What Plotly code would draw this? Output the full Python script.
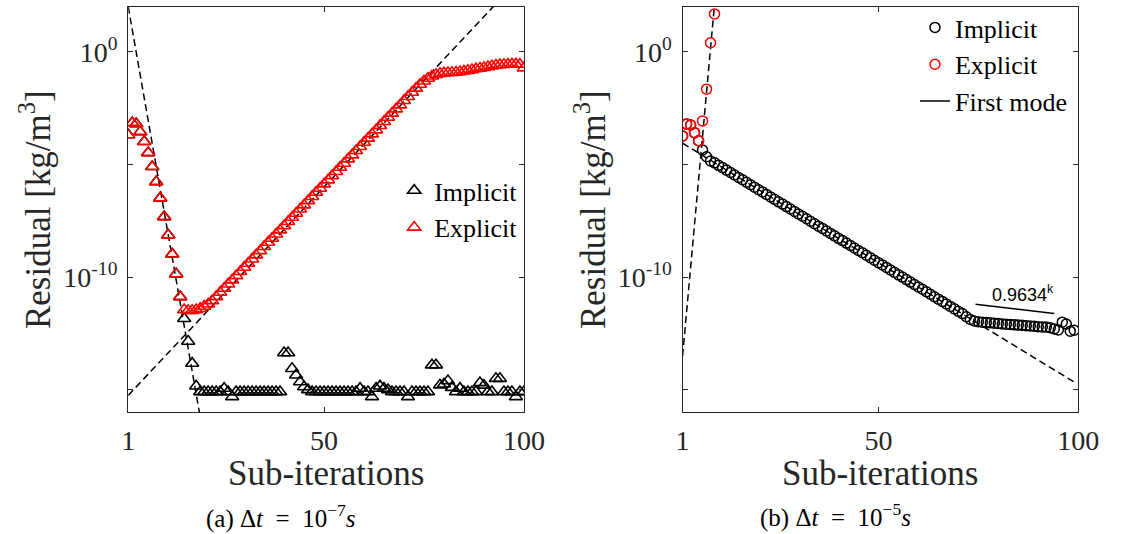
import numpy as np
import plotly.graph_objects as go

# ---------------- data (log10 of residual) ----------------
iters_a = list(range(1, 101))
explicit_a_log10 = [
    -3.69, -3.15, -3.20, -3.55, -3.99, -4.48, -5.10, -5.77, -6.49, -7.32,
    -8.13, -8.98, -9.86, -10.87, -11.45, -11.48, -11.48, -11.45, -11.40, -11.30,
    -11.20, -11.05, -10.87, -10.68, -10.50, -10.31, -10.13, -9.94, -9.76, -9.57,
    -9.39, -9.20, -9.02, -8.83, -8.65, -8.46, -8.28, -8.09, -7.91, -7.72,
    -7.54, -7.35, -7.17, -6.98, -6.80, -6.61, -6.43, -6.24, -6.06, -5.87,
    -5.69, -5.50, -5.32, -5.13, -4.95, -4.76, -4.58, -4.39, -4.21, -4.02,
    -3.84, -3.65, -3.47, -3.28, -3.10, -2.91, -2.73, -2.54, -2.36, -2.17,
    -1.99, -1.80, -1.62, -1.45, -1.30, -1.18, -1.08, -1.01, -0.97, -0.94,
    -0.93, -0.92, -0.91, -0.89, -0.86, -0.83, -0.80, -0.76, -0.73, -0.70,
    -0.67, -0.63, -0.60, -0.58, -0.57, -0.56, -0.55, -0.55, -0.56, -0.72,
]
implicit_a_log10 = [
    -3.69, -3.15, -3.20, -3.55, -3.99, -4.48, -5.10, -5.77, -6.49, -7.32,
    -8.13, -8.98, -9.86, -10.87, -11.84, -12.85, -13.83, -14.84, -15.09, -15.09,
    -15.09, -15.09, -15.09, -15.09, -14.94, -15.09, -15.31, -15.09, -15.09, -15.09,
    -15.09, -15.09, -15.09, -15.09, -15.09, -15.09, -15.09, -15.09, -15.09, -13.36,
    -13.36, -14.06, -14.35, -14.65, -14.87, -15.00, -15.09, -15.09, -15.09, -15.09,
    -15.09, -15.09, -15.09, -15.09, -15.09, -15.09, -15.09, -15.09, -14.94, -15.09,
    -15.09, -15.31, -14.94, -14.84, -14.94, -15.00, -15.09, -15.09, -15.09, -15.09,
    -15.31, -15.09, -15.09, -15.09, -15.09, -15.09, -13.90, -13.90, -14.79, -14.75,
    -14.60, -14.90, -15.09, -14.94, -15.09, -15.09, -15.09, -15.09, -14.69, -14.80,
    -15.09, -15.09, -14.50, -14.50, -15.09, -15.09, -15.09, -15.31, -15.09, -15.09,
]
# dashed fit lines, panel (a)
fit_a1_iters = [1, 18.8]
fit_a1_log10 = [2.0, -16.0]
fit_a2_iters = [1, 100]
fit_a2_log10 = [-15.25, 3.45]

iters_b_explicit = list(range(1, 10))
explicit_b_log10 = [-3.74, -3.21, -3.25, -3.59, -3.95, -3.07, -1.66, 0.40, 1.68]
iters_b_implicit = list(range(1, 100))
implicit_b_log10 = [
    -3.74, -3.21, -3.25, -3.59, -3.95, -4.36, -4.66, -4.85, -4.93, -5.04,
    -5.14, -5.25, -5.36, -5.47, -5.58, -5.68, -5.79, -5.90, -6.01, -6.12,
    -6.22, -6.33, -6.44, -6.55, -6.66, -6.76, -6.87, -6.98, -7.09, -7.20,
    -7.30, -7.41, -7.52, -7.63, -7.74, -7.84, -7.95, -8.06, -8.17, -8.28,
    -8.38, -8.49, -8.60, -8.71, -8.82, -8.92, -9.03, -9.14, -9.25, -9.36,
    -9.46, -9.57, -9.68, -9.79, -9.90, -10.00, -10.11, -10.22, -10.33, -10.44,
    -10.54, -10.65, -10.76, -10.87, -10.98, -11.08, -11.19, -11.30, -11.41, -11.52,
    -11.62, -11.76, -11.88, -11.95, -11.98, -12.00, -12.02, -12.03, -12.05, -12.06,
    -12.08, -12.09, -12.10, -12.12, -12.13, -12.14, -12.16, -12.17, -12.18, -12.20,
    -12.21, -12.22, -12.25, -12.30, -12.35, -12.00, -12.08, -12.40, -12.36,
]
# dashed fit lines, panel (b)
fit_b1_iters = [1, 9.3]
fit_b1_log10 = [-13.5, 2.7]
fit_b2_iters = [1, 99]
fit_b2_log10 = [-4.06, -14.66]
# first-mode slope marker
mode_iters = [74.3, 94.0]
mode_log10 = [-11.21, -11.61]
mode_label = "0.9634<sup>k</sup>"

x_ticks = [1, 50, 100]
y_tickvals = [1e-15, 1e-10, 1e-5, 1e0]
y_ticktext = ["", "10<sup>-10</sup>", "", "10<sup>0</sup>"]

# ---------------- styling ----------------
W, H = 1133, 534
SERIF = "Liberation Serif"
AX = "#262626"
RED = "#ff0000"


def p(v):
    return (10.0 ** np.array(v, dtype=float)).tolist()


fig = go.Figure()

dash_style = dict(color="black", width=1.5, dash="7px,4px")

# panel (a)
fig.add_trace(go.Scatter(x=fit_a1_iters, y=p(fit_a1_log10), mode="lines", line=dash_style,
                         showlegend=False, xaxis="x", yaxis="y", hoverinfo="skip"))
fig.add_trace(go.Scatter(x=fit_a2_iters, y=p(fit_a2_log10), mode="lines", line=dash_style,
                         showlegend=False, xaxis="x", yaxis="y", hoverinfo="skip"))
fig.add_trace(go.Scatter(x=iters_a, y=p(implicit_a_log10), mode="markers", name="Implicit",
                         marker=dict(symbol="triangle-up-open", size=11.5, color="black",
                                     line=dict(width=1.6, color="black")),
                         xaxis="x", yaxis="y", legend="legend"))
fig.add_trace(go.Scatter(x=iters_a, y=p(explicit_a_log10), mode="markers", name="Explicit",
                         marker=dict(symbol="triangle-up-open", size=11.5, color=RED,
                                     line=dict(width=1.6, color=RED)),
                         xaxis="x", yaxis="y", legend="legend"))

# panel (b)
fig.add_trace(go.Scatter(x=fit_b1_iters, y=p(fit_b1_log10), mode="lines", line=dash_style,
                         showlegend=False, xaxis="x2", yaxis="y2", hoverinfo="skip"))
fig.add_trace(go.Scatter(x=fit_b2_iters, y=p(fit_b2_log10), mode="lines", line=dash_style,
                         showlegend=False, xaxis="x2", yaxis="y2", hoverinfo="skip"))
fig.add_trace(go.Scatter(x=iters_b_implicit, y=p(implicit_b_log10), mode="markers", name="Implicit",
                         marker=dict(symbol="circle-open", size=10, color="black",
                                     line=dict(width=1.5, color="black")),
                         xaxis="x2", yaxis="y2", legend="legend2"))
fig.add_trace(go.Scatter(x=iters_b_explicit, y=p(explicit_b_log10), mode="markers", name="Explicit",
                         marker=dict(symbol="circle-open", size=10, color=RED,
                                     line=dict(width=1.5, color=RED)),
                         xaxis="x2", yaxis="y2", legend="legend2"))
fig.add_trace(go.Scatter(x=mode_iters, y=p(mode_log10), mode="lines", name="First mode",
                         line=dict(color="black", width=1.5),
                         xaxis="x2", yaxis="y2", legend="legend2"))

xdom_a = [124.3 / W, 530.0 / W]
xdom_b = [692.7 / W, 1098.4 / W]
ydom = [1 - 412.3 / H, 1 - 6.7 / H]

common_x = dict(range=[1, 100], tickvals=x_ticks, ticktext=[str(t) for t in x_ticks],
                ticks="inside", ticklen=5, tickwidth=1.2, tickcolor=AX,
                showline=True, linecolor=AX, linewidth=1.3, mirror="ticks",
                showgrid=False, zeroline=False, ticklabelstandoff=3,
                tickfont=dict(family=SERIF, size=28, color=AX))
common_y = dict(type="log", range=[-16, 2], tickvals=y_tickvals, ticktext=y_ticktext,
                ticks="inside", ticklen=5, tickwidth=1.2, tickcolor=AX,
                showline=True, linecolor=AX, linewidth=1.3, mirror="ticks",
                showgrid=False, zeroline=False, ticklabelstandoff=4,
                tickfont=dict(family=SERIF, size=28, color=AX))

fig.update_layout(
    width=W, height=H,
    margin=dict(l=0, r=0, t=0, b=0),
    paper_bgcolor="white", plot_bgcolor="white",
    xaxis=dict(domain=xdom_a, anchor="y", **common_x),
    yaxis=dict(domain=ydom, anchor="x", **common_y),
    xaxis2=dict(domain=xdom_b, anchor="y2", **common_x),
    yaxis2=dict(domain=ydom, anchor="x2", **common_y),
    legend=dict(x=397 / W, y=1 - 167 / H, xanchor="left", yanchor="top",
                bgcolor="rgba(255,255,255,0)", borderwidth=0,
                font=dict(family=SERIF, size=26, color="black"), tracegroupgap=0),
    legend2=dict(x=931 / W, y=1 - 4 / H, xanchor="left", yanchor="top",
                 bgcolor="rgba(255,255,255,0)", borderwidth=0,
                 font=dict(family=SERIF, size=26, color="black"), tracegroupgap=0),
    showlegend=True,
)

ann = []
for xc in (29.3, 598.3):
    ann.append(dict(text="Residual [kg/m<sup>3</sup>]", x=xc / W, y=1 - 209.5 / H,
                    xref="paper", yref="paper", textangle=-90, showarrow=False,
                    xanchor="center", yanchor="middle",
                    font=dict(family=SERIF, size=35, color=AX)))
for xc in (327.2, 895.6):
    ann.append(dict(text="Sub-iterations", x=xc / W, y=1 - 473 / H,
                    xref="paper", yref="paper", showarrow=False,
                    xanchor="center", yanchor="middle",
                    font=dict(family=SERIF, size=35, color=AX)))
NB = "&nbsp;"
captions = [("(a)" + NB + "Δ<i>t</i>" + NB * 2 + "=" + NB * 2 + "10<sup>−7</sup><i>s</i>", 281.0, 516.7),
            ("(b)" + NB + "Δ<i>t</i>" + NB * 2 + "=" + NB * 2 + "10<sup>−5</sup><i>s</i>", 849.0, 515.0)]
for txt, xc, yc in captions:
    ann.append(dict(text=txt, x=xc / W, y=1 - yc / H, xref="paper", yref="paper",
                    showarrow=False, xanchor="center", yanchor="middle",
                    font=dict(family=SERIF, size=25, color="black")))
ann.append(dict(text=mode_label, x=86.2, y=-10.72, xref="x2", yref="y2",
                showarrow=False, xanchor="center", yanchor="middle",
                font=dict(family="Liberation Sans", size=18, color="black")))
fig.update_layout(annotations=ann)

fig.write_html("out.html")
